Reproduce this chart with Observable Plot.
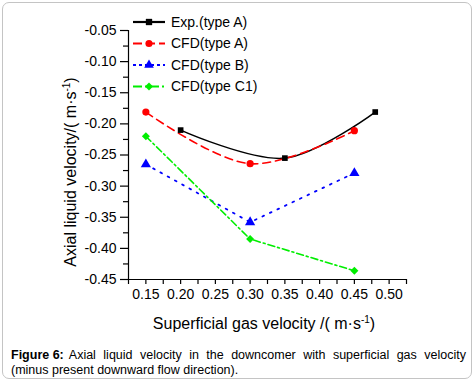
<!DOCTYPE html>
<html>
<head>
<meta charset="utf-8">
<script src="https://cdn.jsdelivr.net/npm/d3@7"></script>
<script src="https://cdn.jsdelivr.net/npm/@observablehq/plot@0.6"></script>
<style>
  html, body { margin: 0; padding: 0; background: #fff; }
  body { width: 476px; height: 383px; position: relative; overflow: hidden; font-family: "Liberation Sans", Arial, sans-serif; }
  #frame { position: absolute; left: 2px; top: 2px; width: 470px; height: 377px; border: 1px solid #c4c4c4; border-radius: 7px; box-sizing: border-box; }
  #chart { position: absolute; left: 0; top: 0; }
  #caption { position: absolute; left: 11px; top: 348px; width: 455px; font-size: 12.5px; line-height: 15px; color: #000; }
  #caption .l1 { text-align: justify; text-align-last: justify; white-space: nowrap; display: flex; justify-content: space-between; }
  #caption .l2 { text-align: left; }
</style>
</head>
<body>
<div id="frame"></div>
<div id="chart"></div>
<div id="caption"><div class="l1"><span><b>Figure 6:</b></span><span id="rest1"></span></div><div class="l2">(minus present downward flow direction).</div></div>
<script>
// ---- data ----
const gasVelocity = [0.15, 0.30, 0.45];           // CFD sample points (m/s)
const expGasVelocity = [0.20, 0.35, 0.48];        // experiment sample points (m/s)
const expTypeA = [-0.21, -0.255, -0.181];
const cfdTypeA = [-0.181, -0.264, -0.211];
const cfdTypeB = [-0.265, -0.358, -0.279];
const cfdTypeC1 = [-0.220, -0.385, -0.436];

const xMajorTicks = [0.15, 0.20, 0.25, 0.30, 0.35, 0.40, 0.45, 0.50];
const xMinorTicks = [0.125, 0.175, 0.225, 0.275, 0.325, 0.375, 0.425, 0.475, 0.525];
const yMajorTicks = [-0.45, -0.40, -0.35, -0.30, -0.25, -0.20, -0.15, -0.10, -0.05];
const yMinorTicks = [-0.425, -0.375, -0.325, -0.275, -0.225, -0.175, -0.125, -0.075];

const seriesNames = ["Exp.(type A)", "CFD(type A)", "CFD(type B)", "CFD(type C1)"];
const seriesColors = ["#000000", "#ff0000", "#0000ff", "#00ee00"];
const seriesSymbols = ["square", "circle", "triangle", "diamond2"];
const seriesDash = [null, "8,5", "1.8,6.5", "7,3,2,3"];

// caption words after the bold label, spread across line 1 like the justified reference
const captionLine1 = ["Axial", "liquid", "velocity", "in", "the", "downcomer", "with", "superficial", "gas", "velocity"];
const rest = document.getElementById("rest1");
rest.style.display = "flex";
rest.style.flex = "1";
rest.style.justifyContent = "space-between";
rest.style.marginLeft = "5px";
captionLine1.forEach(w => { const s = document.createElement("span"); s.textContent = w; rest.appendChild(s); });

const expData = expGasVelocity.map((x, i) => ({x, y: expTypeA[i]}));
const aData = gasVelocity.map((x, i) => ({x, y: cfdTypeA[i]}));
const bData = gasVelocity.map((x, i) => ({x, y: cfdTypeB[i]}));
const cData = gasVelocity.map((x, i) => ({x, y: cfdTypeC1[i]}));

const fmt = d => d.toFixed(2);

const chart = Plot.plot({
  width: 476,
  height: 340,
  marginLeft: 128,
  marginRight: 70,
  marginTop: 30,
  marginBottom: 61,
  style: {fontFamily: '"Liberation Sans", Arial, sans-serif', fontSize: "14px", color: "#000", background: "transparent"},
  x: {domain: [0.125, 0.525]},
  y: {domain: [-0.45, -0.05]},
  marks: [
    Plot.axisX({ticks: xMajorTicks, tickFormat: fmt, tickSize: 5, tickPadding: 5, fontSize: 14, label: null, strokeWidth: 1.2}),
    Plot.axisX({ticks: xMinorTicks, tickFormat: () => "", tickSize: 5, label: null, strokeWidth: 1.2}),
    Plot.axisY({ticks: yMajorTicks, tickFormat: fmt, tickSize: 8, tickPadding: 4, fontSize: 14, label: null, strokeWidth: 1.2}),
    Plot.axisY({ticks: yMinorTicks, tickFormat: () => "", tickSize: 5, label: null, strokeWidth: 1.2}),
    Plot.ruleX([0.125], {stroke: "#000", strokeWidth: 1.2}),
    Plot.ruleY([-0.45], {stroke: "#000", strokeWidth: 1.2}),
    Plot.line(expData, {x: "x", y: "y", curve: "catmull-rom", stroke: seriesColors[0], strokeWidth: 1.5}),
    Plot.line(aData, {x: "x", y: "y", curve: "catmull-rom", stroke: seriesColors[1], strokeWidth: 1.6, strokeDasharray: seriesDash[1]}),
    Plot.line(bData, {x: "x", y: "y", stroke: seriesColors[2], strokeWidth: 1.8, strokeDasharray: seriesDash[2]}),
    Plot.line(cData, {x: "x", y: "y", stroke: seriesColors[3], strokeWidth: 1.6, strokeDasharray: seriesDash[3]}),
    Plot.dot(expData, {x: "x", y: "y", symbol: seriesSymbols[0], r: 3.2, fill: seriesColors[0], stroke: "none"}),
    Plot.dot(aData, {x: "x", y: "y", symbol: seriesSymbols[1], r: 3.6, fill: seriesColors[1], stroke: "none"}),
    Plot.dot(bData, {x: "x", y: "y", symbol: seriesSymbols[2], r: 3.8, fill: seriesColors[2], stroke: "none"}),
    Plot.dot(cData, {x: "x", y: "y", symbol: seriesSymbols[3], r: 3.6, fill: seriesColors[3], stroke: "none"})
  ]
});

document.getElementById("chart").appendChild(chart);

const svg = d3.select(chart);
const ns = '"Liberation Sans", Arial, sans-serif';

// axis titles with superscripts
const yt = svg.append("text")
  .attr("transform", "translate(76,172) rotate(-90)")
  .attr("text-anchor", "middle")
  .attr("font-size", 16).attr("font-family", ns).attr("fill", "#000");
yt.append("tspan").text("Axial liquid velocity/( m·s");
yt.append("tspan").attr("font-size", 10).attr("dy", -6).text("-1");
yt.append("tspan").attr("dy", 6).text(")");

const xt = svg.append("text")
  .attr("x", 264).attr("y", 329)
  .attr("text-anchor", "middle")
  .attr("font-size", 16).attr("font-family", ns).attr("fill", "#000");
xt.append("tspan").text("Superficial gas velocity /( m·s");
xt.append("tspan").attr("font-size", 10).attr("dy", -6).text("-1");
xt.append("tspan").attr("dy", 6).text(")");

// legend
const lg = svg.append("g").attr("font-family", ns).attr("font-size", 14).attr("text-anchor", "start");
const symMap = {square: d3.symbolSquare, circle: d3.symbolCircle, triangle: d3.symbolTriangle, diamond2: d3.symbolDiamond2};
seriesNames.forEach((name, i) => {
  const y = 22 + i * 21.5;
  const g = lg.append("g").attr("transform", `translate(0,${y})`);
  g.append("line").attr("x1", 133).attr("x2", 165).attr("y1", 0).attr("y2", 0)
    .attr("stroke", seriesColors[i]).attr("stroke-width", i === 0 ? 2.2 : 2)
    .attr("stroke-dasharray", i === 0 ? null : (i === 1 ? "9,4" : (i === 2 ? "3,3" : "9,3,2,3")));
  g.append("path").attr("transform", "translate(149,0)")
    .attr("d", d3.symbol(symMap[seriesSymbols[i]], 40)()).attr("fill", seriesColors[i]);
  g.append("text").attr("x", 171).attr("y", 0).attr("dy", "0.35em").attr("fill", "#000").text(name);
});
</script>
</body>
</html>
